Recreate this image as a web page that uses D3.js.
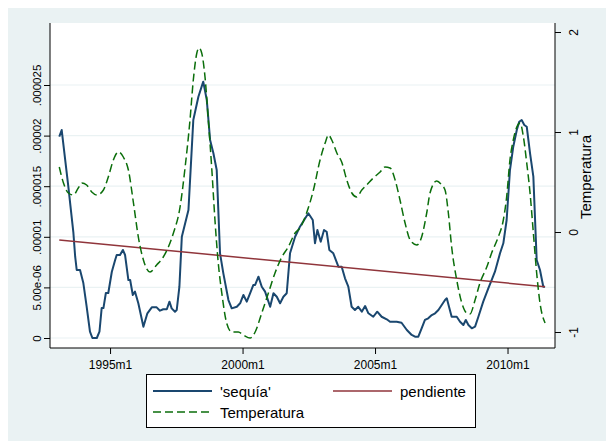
<!DOCTYPE html>
<html>
<head>
<meta charset="utf-8">
<script src="https://cdn.jsdelivr.net/npm/d3@7"></script>
<style>
  html, body { margin: 0; padding: 0; background: #ffffff; }
  svg { display: block; font-family: "Liberation Sans", Arial, sans-serif; }
</style>
</head>
<body>
<svg id="chart" width="606" height="441"></svg>
<script>
// Stata monthly time index: 1960m1 = 0, 1995m1 = 420
const sequiaT = [397.0,398.1,401.1,403.4,404.2,404.9,406.4,407.9,409.4,410.9,412.0,414.0,415.2,416.2,417.0,418.1,419.2,420.8,422.3,423.0,424.5,425.8,426.8,428.3,429.1,430.3,431.3,432.8,435.1,436.9,438.9,441.1,442.6,444.1,445.7,446.9,447.9,449.4,450.2,451.4,452.5,455.5,457.7,460.0,462.2,463.8,465.3,466.8,468.3,469.8,471.3,473.6,475.1,477.4,478.9,480.4,481.9,483.4,484.9,485.7,487.2,488.7,490.2,492.5,494.0,495.5,497.0,498.5,500.0,501.5,503.8,506.0,507.9,509.8,511.8,512.8,513.9,515.4,516.9,518.1,519.3,521.1,523.4,524.9,526.4,527.9,529.4,530.9,532.4,534.0,535.5,537.0,539.2,541.0,543.0,545.3,546.8,549.8,552.0,554.4,556.6,558.1,559.6,561.1,562.6,564.1,565.7,567.2,568.7,570.2,571.7,572.5,573.5,574.7,577.0,578.5,580.0,581.1,582.3,583.8,585.3,586.8,589.0,591.3,592.8,594.3,596.6,598.1,599.6,601.1,602.6,604.2,605.3,606.4,607.6,608.7,610.2,611.7,613.2,614.7,616.2,617.0];
const sequiaV = [19.9e-6,20.55e-6,14.95e-6,10.38e-6,8.03e-6,6.72e-6,6.72e-6,5.43e-6,3.09e-6,0.62e-6,0,0,0.62e-6,2.96e-6,2.96e-6,4.45e-6,4.45e-6,6.55e-6,7.71e-6,8.2e-6,8.2e-6,8.7e-6,8.2e-6,5.73e-6,5.73e-6,4.25e-6,4.58e-6,3.43e-6,1.12e-6,2.44e-6,3.03e-6,3.03e-6,2.7e-6,2.84e-6,2.84e-6,3.59e-6,2.93e-6,2.6e-6,2.77e-6,5.07e-6,10.0e-6,12.65e-6,21.54e-6,23.84e-6,25.33e-6,23.52e-6,19.57e-6,18.25e-6,16.6e-6,8.37e-6,6.39e-6,3.75e-6,2.93e-6,3.09e-6,3.43e-6,4.25e-6,3.59e-6,4.42e-6,5.24e-6,5.24e-6,6.06e-6,5.07e-6,4.58e-6,3.09e-6,4.42e-6,4.08e-6,3.43e-6,4.08e-6,4.42e-6,8.37e-6,10.0e-6,11.0e-6,11.66e-6,12.32e-6,11.66e-6,9.36e-6,10.67e-6,9.52e-6,10.67e-6,10.5e-6,8.7e-6,8.37e-6,7.05e-6,7.05e-6,5.9e-6,5.07e-6,3.09e-6,2.77e-6,3.09e-6,2.6e-6,3.16e-6,2.44e-6,2.1e-6,2.6e-6,2.1e-6,1.85e-6,1.61e-6,1.61e-6,1.51e-6,0.79e-6,0.3e-6,0.13e-6,0.13e-6,0.96e-6,1.78e-6,1.95e-6,2.27e-6,2.44e-6,2.77e-6,3.26e-6,3.75e-6,3.92e-6,3.09e-6,2.1e-6,2.1e-6,1.61e-6,1.28e-6,1.78e-6,1.28e-6,0.96e-6,1.12e-6,2.1e-6,3.59e-6,4.91e-6,5.73e-6,6.55e-6,8.37e-6,9.36e-6,11.66e-6,16.6e-6,18.9e-6,20.55e-6,21.37e-6,21.54e-6,21.05e-6,20.88e-6,18.25e-6,15.94e-6,7.71e-6,6.72e-6,5.07e-6,5.07e-6];

const pendienteT = [397, 617];
const pendienteV = [9.68e-6, 5.07e-6];

const tempT = [397.0,398.9,401.1,403.4,405.6,407.2,409.4,411.7,414.0,417.0,419.2,421.5,423.8,426.0,428.3,430.6,432.8,435.1,438.1,441.1,444.1,446.4,448.7,451.7,454.0,456.2,457.7,459.3,460.3,461.5,463.0,464.5,466.1,467.5,469.0,470.6,472.8,475.1,478.1,480.4,483.4,485.7,488.7,491.7,494.7,497.8,500.7,503.8,506.0,509.0,512.1,515.1,517.4,518.9,520.4,522.7,524.9,527.2,529.5,531.7,534.0,536.2,539.2,542.3,544.5,546.8,549.1,551.3,553.6,555.9,558.9,561.1,563.4,564.9,567.9,570.2,571.7,573.2,574.7,577.0,579.3,581.5,583.0,585.3,587.5,590.6,592.8,595.8,598.1,599.6,601.1,602.6,604.2,605.7,607.2,608.7,610.2,611.7,613.2,614.7,617.0];
const tempV = [0.65,0.49,0.39,0.37,0.44,0.49,0.47,0.40,0.37,0.42,0.55,0.72,0.80,0.75,0.62,0.29,-0.05,-0.28,-0.40,-0.33,-0.25,-0.15,-0.01,0.25,0.65,1.12,1.52,1.79,1.84,1.79,1.55,1.12,0.62,0.12,-0.31,-0.61,-0.91,-1.00,-1.00,-1.03,-1.06,-1.00,-0.81,-0.61,-0.41,-0.25,-0.15,-0.01,0.04,0.19,0.42,0.72,0.89,0.97,0.92,0.79,0.70,0.52,0.39,0.35,0.42,0.47,0.54,0.60,0.65,0.64,0.52,0.32,0.09,-0.08,-0.13,-0.05,0.19,0.39,0.51,0.47,0.42,0.19,-0.15,-0.48,-0.71,-0.81,-0.82,-0.68,-0.51,-0.35,-0.21,-0.05,0.12,0.35,0.72,0.92,1.05,1.09,0.95,0.69,0.39,-0.01,-0.41,-0.71,-0.91];

const xTickValues = [420, 480, 540, 600];
const xTickLabels = ["1995m1", "2000m1", "2005m1", "2010m1"];
const leftTickValues = [0, 5e-6, 1e-5, 1.5e-5, 2e-5, 2.5e-5];
const leftTickLabels = ["0", "5.00e-06", ".00001", ".000015", ".00002", ".000025"];
const rightTickValues = [-1, 0, 1, 2];
const rightTickLabels = ["-1", "0", "1", "2"];
const seriesNames = ["'sequía'", "pendiente", "Temperatura"];
const rightTitle = "Temperatura";

const C = { bg: "#eaf2f3", navy: "#1a476f", maroon: "#90353b", green: "#0b6e0b", axis: "#000000", grid: "#eaf2f3" };
const plot = { left: 50, right: 555, top: 23, bottom: 348 };

const svg = d3.select("#chart");
svg.append("rect").attr("x", 8).attr("y", 8).attr("width", 598).attr("height", 433).attr("fill", C.bg);
svg.append("rect").attr("x", plot.left).attr("y", plot.top)
  .attr("width", plot.right - plot.left).attr("height", plot.bottom - plot.top).attr("fill", "#ffffff");

const x = d3.scaleLinear().domain([392.8, 621.5]).range([plot.left, plot.right]);
const yL = d3.scaleLinear().domain([0, 2.5e-5]).range([338, 85]);
const yR = d3.scaleLinear().domain([-1, 2]).range([332, 32]);

// gridlines
svg.append("g").selectAll("line").data(leftTickValues).join("line")
  .attr("x1", plot.left).attr("x2", plot.right)
  .attr("y1", d => yL(d)).attr("y2", d => yL(d))
  .attr("stroke", C.grid).attr("stroke-width", 1.2);

// series
const clip = svg.append("clipPath").attr("id", "clip").append("rect")
  .attr("x", plot.left).attr("y", plot.top).attr("width", plot.right - plot.left).attr("height", plot.bottom - plot.top);
const g = svg.append("g").attr("clip-path", "url(#clip)");

const seqData = sequiaT.map((t, i) => [t, sequiaV[i]]);
const penData = pendienteT.map((t, i) => [t, pendienteV[i]]);
const tmpData = tempT.map((t, i) => [t, tempV[i]]);

g.append("path").datum(seqData)
  .attr("d", d3.line().x(d => x(d[0])).y(d => yL(d[1])))
  .attr("fill", "none").attr("stroke", C.navy).attr("stroke-width", 2).attr("stroke-linejoin", "round");
g.append("path").datum(penData)
  .attr("d", d3.line().x(d => x(d[0])).y(d => yL(d[1])))
  .attr("fill", "none").attr("stroke", C.maroon).attr("stroke-width", 1.5);
g.append("path").datum(tmpData)
  .attr("d", d3.line().curve(d3.curveMonotoneX).x(d => x(d[0])).y(d => yR(d[1])))
  .attr("fill", "none").attr("stroke", C.green).attr("stroke-width", 1.5).attr("stroke-dasharray", "8,4");

// axes lines
const ax = svg.append("g").attr("stroke", "#000").attr("stroke-width", 1).attr("fill", "none");
ax.append("line").attr("x1", plot.left).attr("x2", plot.left).attr("y1", plot.top).attr("y2", plot.bottom);
ax.append("line").attr("x1", plot.right).attr("x2", plot.right).attr("y1", plot.top).attr("y2", plot.bottom);
ax.append("line").attr("x1", plot.left).attr("x2", plot.right).attr("y1", plot.bottom).attr("y2", plot.bottom);

// x axis
const xAxis = svg.append("g").attr("transform", `translate(0,${plot.bottom})`)
  .call(d3.axisBottom(x).tickValues(xTickValues).tickSize(6).tickPadding(6)
    .tickFormat((d, i) => xTickLabels[i]));
xAxis.select(".domain").remove();
xAxis.selectAll("text").attr("font-size", 12).attr("font-family", "Liberation Sans, Arial, sans-serif").attr("fill", "#000");

// left axis
const lAxis = svg.append("g").attr("transform", `translate(${plot.left},0)`)
  .call(d3.axisLeft(yL).tickValues(leftTickValues).tickSize(6).tickFormat((d, i) => leftTickLabels[i]));
lAxis.select(".domain").remove();
lAxis.selectAll("text")
  .attr("font-size", 11.5).attr("font-family", "Liberation Sans, Arial, sans-serif").attr("fill", "#000")
  .attr("x", null).attr("dy", null)
  .attr("text-anchor", "middle")
  .attr("transform", "translate(-9,0) rotate(-90)");

// right axis
const rAxis = svg.append("g").attr("transform", `translate(${plot.right},0)`)
  .call(d3.axisRight(yR).tickValues(rightTickValues).tickSize(6).tickFormat((d, i) => rightTickLabels[i]));
rAxis.select(".domain").remove();
rAxis.selectAll("text")
  .attr("font-size", 12).attr("font-family", "Liberation Sans, Arial, sans-serif").attr("fill", "#000")
  .attr("x", null).attr("dy", null)
  .attr("text-anchor", "middle")
  .attr("transform", "translate(23,0) rotate(-90)");

svg.append("text").attr("transform", "translate(591,177) rotate(-90)")
  .attr("text-anchor", "middle").attr("font-size", 15).text(rightTitle);

// legend
const lg = svg.append("g");
lg.append("rect").attr("x", 146.5).attr("y", 374.5).attr("width", 329).attr("height", 53)
  .attr("fill", "#fff").attr("stroke", "#000").attr("stroke-width", 1);
const legendItems = [
  { name: seriesNames[0], color: C.navy, dash: null, w: 2, lx: 153, ly: 391 },
  { name: seriesNames[1], color: C.maroon, dash: null, w: 1.5, lx: 333, ly: 391 },
  { name: seriesNames[2], color: C.green, dash: "8,4", w: 1.5, lx: 153, ly: 412 }
];
legendItems.forEach(it => {
  lg.append("line").attr("x1", it.lx).attr("x2", it.lx + 59).attr("y1", it.ly).attr("y2", it.ly)
    .attr("stroke", it.color).attr("stroke-width", it.w).attr("stroke-dasharray", it.dash);
  lg.append("text").attr("x", it.lx + 67).attr("y", it.ly + 5.5).attr("font-size", 15).text(it.name);
});
</script>
</body>
</html>
